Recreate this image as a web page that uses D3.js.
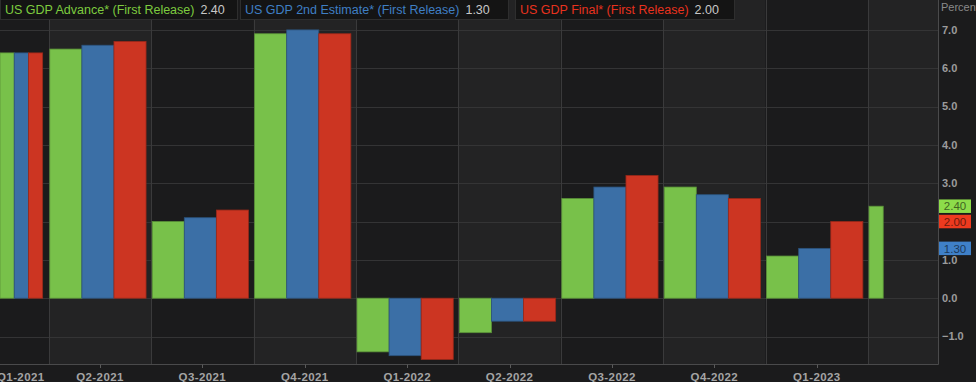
<!DOCTYPE html>
<html><head><meta charset="utf-8">
<script src="https://cdn.jsdelivr.net/npm/d3@7/dist/d3.min.js"></script>
<style>
html,body{margin:0;padding:0;background:#1b1b1c;}
svg{display:block;font-family:"Liberation Sans",Arial,sans-serif;}
</style></head>
<body>
<svg id="c" width="976" height="382"></svg>
<script>
const quarters = ["Q1-2021","Q2-2021","Q3-2021","Q4-2021","Q1-2022","Q2-2022","Q3-2022","Q4-2022","Q1-2023","Q2-2023"];
const xLabels = ["Q1-2021","Q2-2021","Q3-2021","Q4-2021","Q1-2022","Q2-2022","Q3-2022","Q4-2022","Q1-2023",""];
const seriesNames = ["US GDP Advance* (First Release)","US GDP 2nd Estimate* (First Release)","US GDP Final* (First Release)"];
const seriesColors = ["#78c14a","#3b6fa6","#cc3522"];
const legendColors = ["#7dcb3f","#3f7fc4","#e8321e"];
const tagColors = ["#8ddc4a","#3f80c8","#ee3a1f"];
const advance = [6.4, 6.5, 2.0, 6.9, -1.4, -0.9, 2.6, 2.9, 1.1, 2.4];
const secondEst = [6.4, 6.6, 2.1, 7.0, -1.5, -0.6, 2.9, 2.7, 1.3, null];
const finalEst = [6.4, 6.7, 2.3, 6.9, -1.6, -0.6, 3.2, 2.6, 2.0, null];
const latest = [2.40, 1.30, 2.00];
const yTicks = [-1, 0, 1, 2, 3, 4, 5, 6, 7];
const yLabel = "Percent";

const series = [advance, secondEst, finalEst];
const svg = d3.select("#c");
const plotR = 938.5, plotB = 364.5;

const x = d3.scaleBand().domain(quarters).range([-53.6, 970.4]).padding(0);
const y = d3.scaleLinear().domain([-1.73, 7.78]).range([plotB, 0]);
const bw = x.bandwidth();
const groupW = bw * 0.94;

svg.append("defs").append("clipPath").attr("id", "plotclip")
  .append("rect").attr("x", 0).attr("y", 0).attr("width", plotR).attr("height", plotB);

const plot = svg.append("g").attr("clip-path", "url(#plotclip)");

plot.selectAll("rect.band").data(quarters).join("rect")
  .attr("class", "band")
  .attr("x", d => x(d)).attr("y", 0)
  .attr("width", bw).attr("height", plotB)
  .attr("fill", (d, i) => i % 2 ? "#232324" : "#1b1b1c");

plot.selectAll("line.hg").data(yTicks).join("line")
  .attr("class", "hg")
  .attr("x1", 0).attr("x2", plotR)
  .attr("y1", d => Math.round(y(d)) + 0.5).attr("y2", d => Math.round(y(d)) + 0.5)
  .attr("stroke", "#343435").attr("stroke-width", 1);

plot.selectAll("line.vg").data(quarters).join("line")
  .attr("class", "vg")
  .attr("x1", d => Math.round(x(d)) + 0.5).attr("x2", d => Math.round(x(d)) + 0.5)
  .attr("y1", 0).attr("y2", plotB)
  .attr("stroke", "#3a3a3b").attr("stroke-width", 1);

const firstVisibleW = (x(quarters[0]) + groupW) / 3;
function barGeom(qi, si) {
  const left = x(quarters[qi]);
  if (qi === 0) return { x: si * firstVisibleW, w: firstVisibleW };
  if (qi === quarters.length - 1) return { x: left + 1 + si * firstVisibleW, w: firstVisibleW };
  const sub = groupW / 3;
  return { x: left + 1 + si * sub, w: sub };
}
const barData = [];
series.forEach((arr, si) => arr.forEach((v, qi) => {
  if (v === null) return;
  barData.push({ si, qi, v });
}));
plot.selectAll("rect.bar").data(barData).join("rect")
  .attr("class", "bar")
  .attr("x", d => barGeom(d.qi, d.si).x)
  .attr("width", d => barGeom(d.qi, d.si).w)
  .attr("y", d => Math.min(y(d.v), y(0)))
  .attr("height", d => Math.abs(y(d.v) - y(0)))
  .attr("fill", d => seriesColors[d.si])
  .attr("stroke", d => d3.color(seriesColors[d.si]).darker(0.8))
  .attr("stroke-width", 0.8);

svg.append("line").attr("x1", plotR).attr("x2", plotR).attr("y1", 0).attr("y2", plotB)
  .attr("stroke", "#4a4a4b").attr("stroke-width", 1);
svg.append("line").attr("x1", 0).attr("x2", plotR).attr("y1", plotB).attr("y2", plotB)
  .attr("stroke", "#4a4a4b").attr("stroke-width", 1);

svg.selectAll("text.yl").data(yTicks).join("text")
  .attr("class", "yl")
  .attr("x", 942).attr("y", d => y(d))
  .attr("dy", "0.35em")
  .attr("fill", "#9c9c9c").attr("font-size", 11).attr("font-weight", "bold")
  .text(d => d3.format(".1f")(d));
svg.append("text").attr("x", 941).attr("y", 11).attr("fill", "#8a8a8a")
  .attr("font-size", 11).text(yLabel);

const centers = quarters.map((q, i) => ({ q, lab: xLabels[i], cx: x(q) + bw / 2 }));
svg.selectAll("line.xt").data(centers.filter(d => d.lab && d.cx > 0)).join("line")
  .attr("class", "xt")
  .attr("x1", d => Math.round(d.cx) + 0.5).attr("x2", d => Math.round(d.cx) + 0.5)
  .attr("y1", plotB).attr("y2", plotB + 3.5)
  .attr("stroke", "#5a5a5a");
const xl = svg.selectAll("text.xl").data(centers.filter(d => d.lab)).join("text")
  .attr("class", "xl")
  .attr("x", d => d.cx).attr("y", 381)
  .attr("text-anchor", "middle")
  .attr("fill", "#a4a4a4").attr("font-size", 11.5).attr("font-weight", "bold")
  .attr("letter-spacing", 0.4)
  .text(d => d.lab);
// keep edge label mostly visible, as the reference does
xl.each(function(d) {
  const w = this.getComputedTextLength();
  if (d.cx - w / 2 < -3) d3.select(this).attr("x", w / 2 - 3);
});

const tagOrder = [0, 2, 1];
const tagH = 13.5;
let prevBottom = -Infinity;
const tags = [];
tagOrder.forEach(si => {
  let top = y(latest[si]) - tagH / 2;
  if (top < prevBottom) top = prevBottom;
  tags.push({ si, top });
  prevBottom = top + tagH;
});
const tg = svg.selectAll("g.tag").data(tags).join("g").attr("class", "tag");
tg.append("rect").attr("x", 939).attr("y", d => d.top)
  .attr("width", 32).attr("height", tagH)
  .attr("fill", d => tagColors[d.si]);
tg.append("text").attr("x", 955).attr("y", d => d.top + tagH / 2)
  .attr("dy", "0.36em").attr("text-anchor", "middle")
  .attr("font-size", 11.5).attr("fill", d => d3.color(tagColors[d.si]).darker(2.2))
  .text(d => d3.format(".2f")(latest[d.si]));

const legendX = [0, 240, 515];
const legendW = [237, 268, 219];
const lg = svg.selectAll("g.leg").data(seriesNames).join("g").attr("class", "leg")
  .attr("transform", (d, i) => `translate(${legendX[i]},0)`);
lg.append("rect").attr("x", 0.5).attr("y", -1).attr("width", (d, i) => legendW[i])
  .attr("height", 20.5).attr("fill", "#141414").attr("stroke", "#2e2e2e");
lg.append("text").attr("class", "ln").attr("x", 5).attr("y", 14)
  .attr("font-size", 12.5).attr("fill", (d, i) => legendColors[i])
  .text(d => d);
lg.append("text").attr("class", "lv").attr("y", 14)
  .attr("font-size", 12.5).attr("fill", "#c8c8c8")
  .text((d, i) => d3.format(".2f")(latest[i]));
lg.each(function() {
  const g = d3.select(this);
  const tw = g.select("text.ln").node().getComputedTextLength();
  g.select("text.lv").attr("x", 5 + tw + 6);
});
</script>
</body></html>
